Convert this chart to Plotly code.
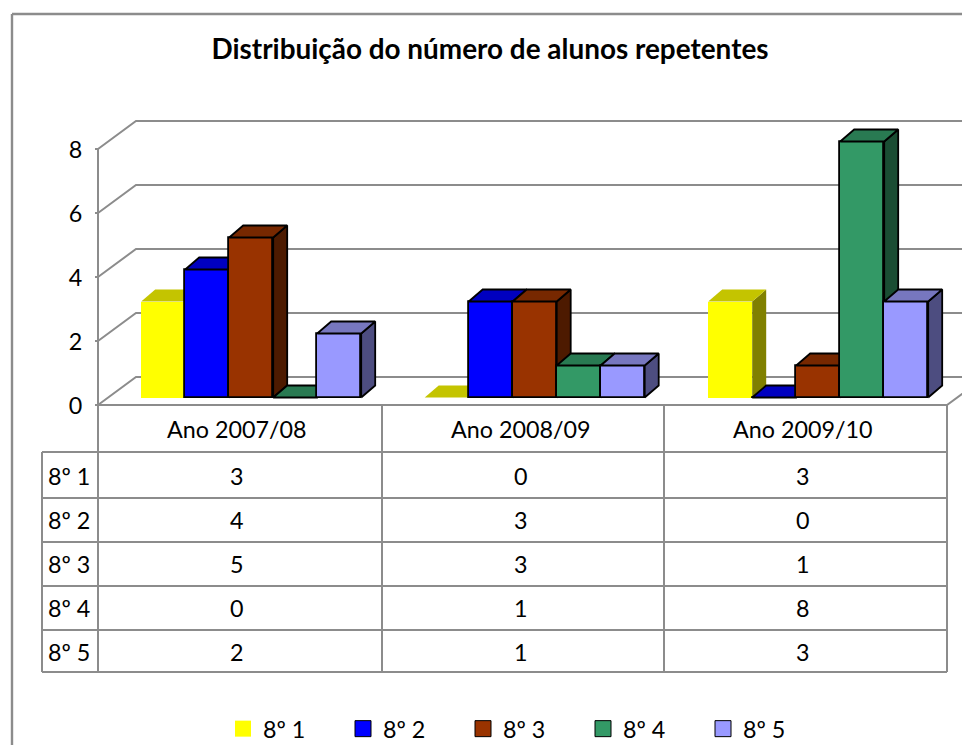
import plotly.graph_objects as go

title = "Distribuição do número de alunos repetentes"
years = ["Ano 2007/08", "Ano 2008/09", "Ano 2009/10"]
classes = ["8º 1", "8º 2", "8º 3", "8º 4", "8º 5"]
s1 = [3, 0, 3]
s2 = [4, 3, 0]
s3 = [5, 3, 1]
s4 = [0, 1, 8]
s5 = [2, 1, 3]
series = [s1, s2, s3, s4, s5]
y_ticks = [0, 2, 4, 6, 8]

front = ["#FFFF00", "#0000FF", "#993300", "#339966", "#9999FF"]
top = ["#C4C400", "#0000C0", "#772800", "#297A52", "#7777BF"]
side = ["#808000", "#000080", "#4D1A00", "#1A4D33", "#4D4D80"]
edge = [None, "#000000", "#000000", "#000000", "#000000"]
GRAY = "#8C8C8C"

W, H = 962, 755  # slightly taller than the window: the legend box then needs no extra margin
FONT = "Lato"
FS = 23.3
LINE = 2.0
EDGE = 1.8

def px(x):
    return x / W

def py(y):
    return 1 - y / H

# scales: one category step = 283.5 px, one value unit = 32 px
STEP, UNIT = 283.5, 32.0
C0 = 251.2
BASE = 397.5
AXIS0 = 405.0
bar_w = 44.0 / STEP
dep_x = 14.0 / STEP
dep_y = 12.0 / UNIT
x_range = [(0 - C0) / STEP, (W - C0) / STEP]
y_bar_range = [(BASE - H) / UNIT, BASE / UNIT]
y_val_range = [(AXIS0 - H) / UNIT, AXIS0 / UNIT]
wall_x = 38.0 / STEP
wall_y = 28.0 / UNIT
left_x = (98 - C0) / STEP
right_x = (947 - C0) / STEP

fig = go.Figure()

# walls and floor on the labelled value axis
for v in y_ticks:
    fig.add_trace(go.Scatter(
        x=[left_x, left_x + wall_x, right_x + 2 * wall_x], y=[v, v + wall_y, v + wall_y],
        mode="lines", line=dict(color=GRAY, width=LINE), showlegend=False, hoverinfo="skip"))
fig.add_trace(go.Scatter(
    x=[left_x, left_x, right_x, right_x + wall_x], y=[max(y_ticks), 0, 0, wall_y],
    mode="lines", line=dict(color=GRAY, width=LINE), showlegend=False, hoverinfo="skip"))

# legend entries
for s, name in enumerate(classes):
    fig.add_trace(go.Scatter(
        x=[None], y=[None], mode="markers", name=name,
        marker=dict(symbol="square", size=16, color=front[s],
                    line=dict(color=edge[s] or front[s], width=1 if edge[s] else 0))))

# one overlaid axis pair per series, so that each series hides the side of the one before
for s, vals in enumerate(series):
    k = s + 2
    xa, ya = f"x{k}", f"y{k}"
    xs = [i + (s - 2) * bar_w for i in range(len(vals))]
    lw = EDGE if edge[s] else 0
    ln = dict(color=edge[s] or "rgba(0,0,0,0)", width=lw)
    fig.add_trace(go.Bar(
        x=xs, y=vals, width=bar_w, name=classes[s], xaxis=xa, yaxis=ya, showlegend=False,
        marker=dict(color=front[s], line=ln)))
    for x, v in zip(xs, vals):
        x0, x1 = x - bar_w / 2, x + bar_w / 2
        fig.add_trace(go.Scatter(
            x=[x1, x1 + dep_x, x1 + dep_x, x1, x1], y=[0, dep_y, v + dep_y, v, 0],
            mode="lines", fill="toself", fillcolor=side[s], line=ln,
            xaxis=xa, yaxis=ya, showlegend=False, hoverinfo="skip"))
        fig.add_trace(go.Scatter(
            x=[x0, x1, x1 + dep_x, x0 + dep_x, x0], y=[v, v, v + dep_y, v + dep_y, v],
            mode="lines", fill="toself", fillcolor=top[s], line=ln,
            xaxis=xa, yaxis=ya, showlegend=False, hoverinfo="skip"))

# data table
col_lines = [98, 382, 664, 947]
row_lines = [405, 452, 498, 542, 586, 630, 672]
col_text = [237, 521, 803]
row_text = [429, 476, 520, 564, 608, 652]
shapes = []

def seg(x0, y0, x1, y1, w=LINE):
    shapes.append(dict(type="line", xref="paper", yref="paper", x0=px(x0), y0=py(y0), x1=px(x1), y1=py(y1),
                       line=dict(color=GRAY, width=w)))

for x in col_lines:
    seg(x, row_lines[0], x, row_lines[-1])
seg(42, row_lines[1], 42, row_lines[-1])
for y in row_lines[1:]:
    seg(42, y, col_lines[-1], y)
seg(12, 14, 12, H, 2.4)
seg(12, 14, W, 14, 2.4)

ann = []

def text(x, y, t, anchor="center"):
    ann.append(dict(xref="paper", yref="paper", x=px(x), y=py(y), text=t, showarrow=False,
                    xanchor=anchor, yanchor="middle", font=dict(family=FONT, size=FS, color="#000000")))

for j, yr in enumerate(years):
    text(col_text[j], row_text[0], yr)
for r, name in enumerate(classes):
    text(46, row_text[r + 1], name, "left")
    for j in range(len(years)):
        text(col_text[j], row_text[r + 1], str(series[r][j]))

layout = dict(
    width=W, height=H, autosize=False, margin=dict(l=0, r=0, t=0, b=0, pad=0),
    paper_bgcolor="#FFFFFF", plot_bgcolor="rgba(0,0,0,0)",
    title=dict(text=f"<b>{title}</b>", x=px(490), y=py(49), xanchor="center", yanchor="middle",
               automargin=False, font=dict(family=FONT, size=27.9, color="#000000")),
    font=dict(family=FONT, size=FS, color="#000000"),
    xaxis=dict(range=x_range, visible=False, domain=[0, 1]),
    yaxis=dict(range=y_val_range, anchor="free", position=px(98), side="left", domain=[0, 1],
               tickmode="array", tickvals=y_ticks, ticktext=[str(v) for v in y_ticks],
               ticks="outside", ticklen=3, tickcolor=GRAY, tickwidth=LINE, ticklabelstandoff=8,
               ticklabelshift=1, showgrid=False, zeroline=False, showline=False,
               tickfont=dict(family=FONT, size=FS, color="#000000")),
    shapes=shapes, annotations=ann, bargap=0,
    showlegend=True,
    legend=dict(orientation="h", x=px(223), y=py(729),
                xanchor="left", yanchor="middle",
                entrywidth=75, entrywidthmode="pixels", itemsizing="trace",
                bgcolor="rgba(0,0,0,0)", font=dict(family=FONT, size=FS, color="#000000"),
                traceorder="normal", itemclick=False, itemdoubleclick=False),
)
for k in range(2, 7):
    layout[f"xaxis{k}"] = dict(range=x_range, visible=False, overlaying="x", domain=[0, 1])
    layout[f"yaxis{k}"] = dict(range=y_bar_range, visible=False, overlaying="y", domain=[0, 1])
fig.update_layout(**layout)

fig.write_html("out.html", config=dict(displayModeBar=False),
               post_script="document.body.style.margin='0';document.body.style.overflow='hidden';")
